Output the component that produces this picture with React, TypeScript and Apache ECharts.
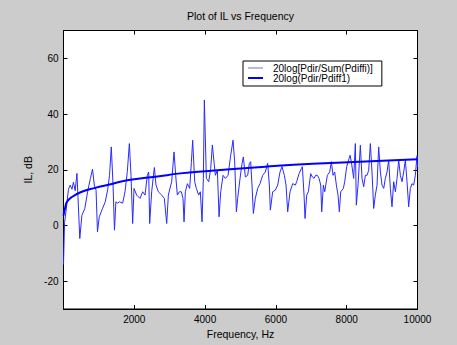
import React, { useEffect, useRef } from "react";
import * as echarts from "echarts";

const TITLE = "Plot of IL vs Frequency";
const X_NAME = "Frequency, Hz";
const Y_NAME = "IL, dB";
const SERIES_NAMES = ["20log[Pdir/Sum(Pdiffi)]", "20log(Pdir/Pdiff1)"];
const X_TICKS = [2000, 4000, 6000, 8000, 10000];
const Y_TICKS = [-20, 0, 20, 40, 60];

const NOISY_FREQ = [
  0, 30, 70, 140, 190, 240, 280, 330, 380, 410, 460, 520, 600, 680, 760, 820, 870, 920, 960, 1010,
  1100, 1180, 1250, 1300, 1350, 1400, 1440, 1480, 1530, 1580, 1671, 1737, 1803, 1860, 1907, 1954, 1992, 2067, 2161, 2237,
  2303, 2368, 2406, 2434, 2491, 2566, 2613, 2679, 2774, 2849, 2915, 2962, 3056, 3122, 3169, 3216, 3273, 3329, 3376, 3405,
  3442, 3499, 3565, 3612, 3649, 3706, 3753, 3819, 3866, 3913, 3951, 3979, 4007, 4036, 4102, 4158, 4205, 4252, 4290, 4347,
  4394, 4441, 4507, 4573, 4648, 4723, 4789, 4836, 4884, 4920, 4986, 5043, 5080, 5137, 5203, 5250, 5287, 5325, 5363, 5419,
  5485, 5551, 5627, 5702, 5768, 5815, 5843, 5909, 5985, 6051, 6116, 6173, 6239, 6286, 6333, 6399, 6474, 6550, 6587, 6653,
  6719, 6748, 6795, 6823, 6870, 6917, 6983, 7030, 7077, 7124, 7171, 7219, 7266, 7294, 7341, 7379, 7454, 7520, 7567, 7614,
  7661, 7708, 7755, 7793, 7831, 7906, 7944, 8000, 8066, 8095, 8132, 8197, 8244, 8272, 8320, 8386, 8433, 8480, 8527, 8574,
  8621, 8668, 8715, 8762, 8809, 8857, 8904, 8951, 8998, 9045, 9092, 9139, 9186, 9233, 9280, 9327, 9375, 9422, 9469, 9516,
  9563, 9610, 9657, 9704, 9751, 9798, 9845, 9892, 9939, 9986, 10000,
];
const NOISY_IL = [
  -14, 1, 5, 13, 14.5, 13, 15.5, 12.5, 18.7, 10, -4.7, 3.7, 6, 12, 16.9, 20.2, 14.5, 12.6, -2.3, 3.1,
  6, 8.5, 13, 18, 28.2, 14.5, -1.7, 8.5, 8, 8.5, 8, 12.1, 19.3, 29.4, 18, 0.7, 13.3, 10.9, 9.7, 12.1,
  10.9, 18, 19.2, 0.7, 12.1, 20.8, 14.5, 12.1, 10.9, 9.7, 0.7, 10.9, 15.7, 26.4, 18, 10.9, 12.1, 12.1, 9.7, 1.3,
  12.1, 15, 13.3, 22.6, 30.6, 15.7, 13.3, 10.9, 12.1, 1.3, 16.9, 45, 31, 16.9, 15.7, 20.4, 28.9, 22.8, 18, 19.8,
  3.1, 12.1, 18, 16.9, 18, 25.2, 30.6, 22.8, 4.9, 9.7, 16.8, 22.2, 24.6, 17.4, 18, 22.3, 22.9, 14.5, 4.3, 9.7,
  13.3, 15, 18, 19.2, 22.3, 14.5, 5.5, 12.1, 12.7, 14.5, 19.2, 21.1, 18, 14.5, 4.9, 12.1, 15, 14.5, 15.7, 18.6,
  20.4, 21.1, 10.9, 2.5, 10.9, 12.1, 18.6, 17.4, 16.9, 18, 18, 16.9, 14.5, 4.9, 14.5, 12.1, 18, 19.2, 22.9, 18,
  19.2, 14.5, 10.9, 4.9, 12.1, 13.3, 15.7, 21.1, 24, 25.2, 22.8, 16.9, 29.4, 7.3, 14.5, 28.8, 16.9, 13.9, 18, 18,
  19.8, 29.4, 19.2, 6.1, 10.9, 14.5, 28.2, 19.2, 14.5, 13.3, 16.9, 19.2, 23.4, 13.3, 6.7, 15.7, 12.1, 16.9, 23.4, 18,
  15.7, 19.2, 23.4, 15.7, 6.7, 13.3, 15, 14.5, 18, 25, 21,
];

const SMOOTH_FREQ = [0, 50, 100, 250, 500, 900, 1300, 1600, 2000, 2600, 3300, 4000, 5400, 6500, 8200, 10000];
const SMOOTH_IL = [3.5, 6.5, 8.5, 10.3, 12, 13.5, 14.7, 15.7, 16.6, 17.5, 18.7, 19.5, 20.8, 21.8, 22.8, 23.8];

const FONT = "'Liberation Sans', Arial, sans-serif";

export default function App() {
  const ref = useRef<HTMLDivElement>(null);
  useEffect(() => {
    if (!ref.current) return;
    const chart = echarts.init(ref.current, null, { renderer: "svg" });
    const noisy = NOISY_FREQ.map((f, i) => [f, NOISY_IL[i]]);
    const smooth = SMOOTH_FREQ.map((f, i) => [f, SMOOTH_IL[i]]);
    const tickStyle = { inside: true, length: 4, lineStyle: { color: "#000", width: 1 } };
    const plain = (v: number) => String(v);
    chart.setOption({
      animation: false,
      backgroundColor: "#cccccc",
      textStyle: { fontFamily: FONT },
      title: {
        text: TITLE,
        left: 187,
        top: 10,
        padding: 0,
        textStyle: { fontSize: 10.5, fontWeight: "normal", color: "#000", fontFamily: FONT },
      },
      legend: {
        data: [
          {
            name: SERIES_NAMES[0],
            icon: "path://M0,0 H15 V1 H0 Z M20,0 L20,1 Z",
            itemStyle: { color: "#6a6aff", borderWidth: 0 },
          },
          {
            name: SERIES_NAMES[1],
            icon: "path://M0,0 H15 V2 H0 Z M20,0 L20,2 Z",
            itemStyle: { color: "#0000ff", borderWidth: 0 },
          },
        ],
        orient: "vertical",
        left: 243,
        top: 61,
        backgroundColor: "#ffffff",
        borderColor: "#000",
        borderWidth: 1,
        borderRadius: 0,
        padding: [2, 9, 3, 5],
        itemWidth: 20,
        itemHeight: 11,
        itemGap: 0,
        textStyle: { fontSize: 10, color: "#000", fontFamily: FONT },
      },
      grid: {
        left: 63.5,
        right: 39.5,
        top: 30.5,
        bottom: 36,
        show: true,
        backgroundColor: "#ffffff",
        borderColor: "#000",
        borderWidth: 1,
      },
      xAxis: [
        {
          type: "value",
          min: 0,
          max: 10000,
          name: X_NAME,
          nameLocation: "middle",
          nameGap: 17,
          nameTextStyle: { fontSize: 10.5, color: "#000", fontFamily: FONT },
          axisLine: { show: true, onZero: false, lineStyle: { color: "#000" } },
          axisTick: { ...tickStyle, customValues: X_TICKS },
          axisLabel: { customValues: X_TICKS, formatter: plain, fontSize: 10, color: "#000", margin: 5, fontFamily: FONT },
          splitLine: { show: false },
        },
        {
          type: "value",
          position: "top",
          min: 0,
          max: 10000,
          axisLine: { show: true, onZero: false, lineStyle: { color: "#000" } },
          axisTick: { ...tickStyle, customValues: X_TICKS },
          axisLabel: { show: false },
          splitLine: { show: false },
        },
      ],
      yAxis: [
        {
          type: "value",
          min: -30,
          max: 70,
          name: Y_NAME,
          nameLocation: "middle",
          nameGap: 24,
          nameTextStyle: { fontSize: 10.5, color: "#000", fontFamily: FONT },
          axisLine: { show: true, onZero: false, lineStyle: { color: "#000" } },
          axisTick: { ...tickStyle, customValues: Y_TICKS },
          axisLabel: { customValues: Y_TICKS, formatter: plain, fontSize: 10, color: "#000", margin: 5, fontFamily: FONT },
          splitLine: { show: false },
        },
        {
          type: "value",
          position: "right",
          min: -30,
          max: 70,
          axisLine: { show: true, onZero: false, lineStyle: { color: "#000" } },
          axisTick: { ...tickStyle, customValues: Y_TICKS },
          axisLabel: { show: false },
          splitLine: { show: false },
        },
      ],
      series: [
        {
          name: SERIES_NAMES[0],
          type: "line",
          data: noisy,
          showSymbol: false,
          symbol: "none",
          lineStyle: { color: "#2a2aff", width: 1 },
          itemStyle: { color: "#2a2aff" },
          z: 2,
        },
        {
          name: SERIES_NAMES[1],
          type: "line",
          data: smooth,
          smooth: true,
          showSymbol: false,
          symbol: "none",
          lineStyle: { color: "#0000ff", width: 2 },
          itemStyle: { color: "#0000ff" },
          z: 3,
        },
      ],
    });
    return () => chart.dispose();
  }, []);
  return (
    <div
      ref={ref}
      style={{ position: "fixed", left: 0, top: 0, width: 457, height: 345 }}
    />
  );
}
